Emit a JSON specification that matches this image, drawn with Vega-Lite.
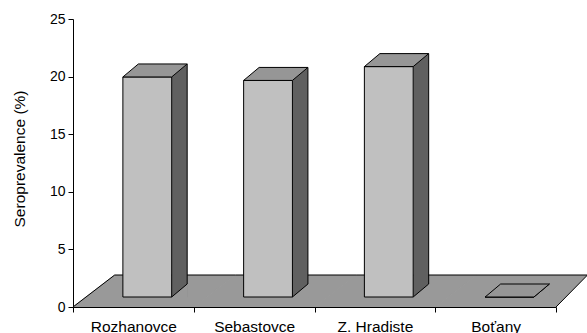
{
  "$schema": "https://vega.github.io/schema/vega-lite/v6.json",
  "width": 483,
  "height": 288,
  "autosize": "none",
  "padding": {"left": 73, "top": 19, "right": 31, "bottom": 26},
  "background": "white",
  "data": {
    "values": [
      {"site": "Rozhanovce", "value": 19.1},
      {"site": "Sebastovce", "value": 18.8},
      {"site": "Z. Hradiste", "value": 20.0},
      {"site": "Boťany", "value": 0}
    ]
  },
  "encoding": {
    "x": {
      "field": "site",
      "type": "nominal",
      "sort": null,
      "scale": {"paddingInner": 0, "paddingOuter": 0},
      "axis": {
        "title": null,
        "labelAngle": 0,
        "tickBand": "extent",
        "labelFontSize": 15.5,
        "labelPadding": 7,
        "zindex": 1
      }
    }
  },
  "layer": [
    {
      "description": "floor slab, one sheared tile per category",
      "transform": [{"filter": "datum.site !== 'Boťany'"}],
      "mark": {"type": "point", "shape": "M -60.9 0 L 60.9 0 L 102.6 -32 L -19.2 -32 Z", "size": 4, "filled": true, "fill": "#999999", "strokeWidth": 0, "opacity": 1},
      "encoding": {"y": {"datum": 0, "type": "quantitative", "scale": {"domain": [0, 25], "nice": false}}}
    },
    {
      "transform": [{"filter": "datum.site === 'Boťany'"}],
      "mark": {"type": "point", "shape": "M -60.9 0 L 60.4 0 L 91.9 -32 L -19.2 -32 Z", "size": 4, "filled": true, "fill": "#999999", "strokeWidth": 0, "opacity": 1},
      "encoding": {"y": {"datum": 0, "type": "quantitative"}}
    },
    {
      "description": "floor outline: left edge, back edge, right edge",
      "transform": [{"filter": "datum.site === 'Rozhanovce'"}],
      "mark": {"type": "point", "shape": "M -60.4 0 L -18.7 -32 L 102.1 -32", "size": 4, "filled": false, "stroke": "#000000", "strokeWidth": 1, "opacity": 1},
      "encoding": {"y": {"datum": 0, "type": "quantitative"}}
    },
    {
      "transform": [{"filter": "datum.site === 'Sebastovce' || datum.site === 'Z. Hradiste'"}],
      "mark": {"type": "point", "shape": "M -18.7 -32 L 102.1 -32", "size": 4, "filled": false, "stroke": "#000000", "strokeWidth": 1, "opacity": 1},
      "encoding": {"y": {"datum": 0, "type": "quantitative"}}
    },
    {
      "transform": [{"filter": "datum.site === 'Boťany'"}],
      "mark": {"type": "point", "shape": "M -18.7 -32 L 91.9 -32 L 60.4 0", "size": 4, "filled": false, "stroke": "#000000", "strokeWidth": 1, "opacity": 1},
      "encoding": {"y": {"datum": 0, "type": "quantitative"}}
    },
    {
      "description": "right-hand side face of each column",
      "mark": {"type": "bar", "width": 15.5, "xOffset": 46.05, "yOffset": -23, "y2Offset": -10, "fill": "#606060", "strokeWidth": 0},
      "encoding": {
        "y": {
          "field": "value",
          "type": "quantitative",
          "scale": {"domain": [0, 25], "nice": false},
          "axis": {
            "values": [0, 5, 10, 15, 20, 25],
            "title": "Seroprevalence (%)",
            "titleFontSize": 15.5,
            "titleFontWeight": "normal",
            "labelFontSize": 14,
            "labelPadding": 3,
            "titleX": -54,
            "titleY": 139.5,
            "titleBaseline": "middle",
            "titleAlign": "center",
            "titleAngle": -90
          }
        },
        "y2": {"datum": 0}
      }
    },
    {
      "description": "floor patch below the slanted bottom edge of the side face",
      "mark": {"type": "point", "shape": "M 38.3 -10 L 53.8 -23 L 54.3 -23 L 54.3 -9.5 L 38.3 -9.5 Z", "size": 4, "filled": true, "fill": "#999999", "strokeWidth": 0, "opacity": 1},
      "encoding": {"y": {"datum": 0, "type": "quantitative"}}
    },
    {
      "mark": {"type": "point", "shape": "M 38.3 -10 L 53.8 -23", "size": 4, "filled": false, "stroke": "#000000", "strokeWidth": 1, "opacity": 1},
      "encoding": {"y": {"datum": 0, "type": "quantitative"}}
    },
    {
      "description": "back vertical edge of the side face",
      "mark": {"type": "rule", "xOffset": 53.8, "yOffset": -23, "y2Offset": -23, "stroke": "#000000", "strokeWidth": 1},
      "encoding": {
        "y": {"field": "value", "type": "quantitative"},
        "y2": {"datum": 0}
      }
    },
    {
      "description": "front face of each column",
      "mark": {"type": "bar", "width": 48.8, "xOffset": 13.9, "yOffset": -10, "y2Offset": -10, "fill": "#C0C0C0", "stroke": "#000000", "strokeWidth": 1},
      "encoding": {
        "y": {"field": "value", "type": "quantitative"},
        "y2": {"datum": 0}
      }
    },
    {
      "description": "top face of each column",
      "mark": {"type": "point", "shape": "M -10.5 -10 L 38.3 -10 L 53.8 -23 L 5 -23 Z", "size": 4, "filled": true, "fill": "#969696", "stroke": "#000000", "strokeWidth": 1, "opacity": 1},
      "encoding": {"y": {"field": "value", "type": "quantitative"}}
    }
  ],
  "config": {
    "view": {"stroke": null},
    "axis": {
      "labelFont": "Liberation Sans",
      "titleFont": "Liberation Sans",
      "labelColor": "#000000",
      "titleColor": "#000000",
      "domainColor": "#000000",
      "tickColor": "#000000",
      "tickSize": 5,
      "grid": false
    }
  }
}
